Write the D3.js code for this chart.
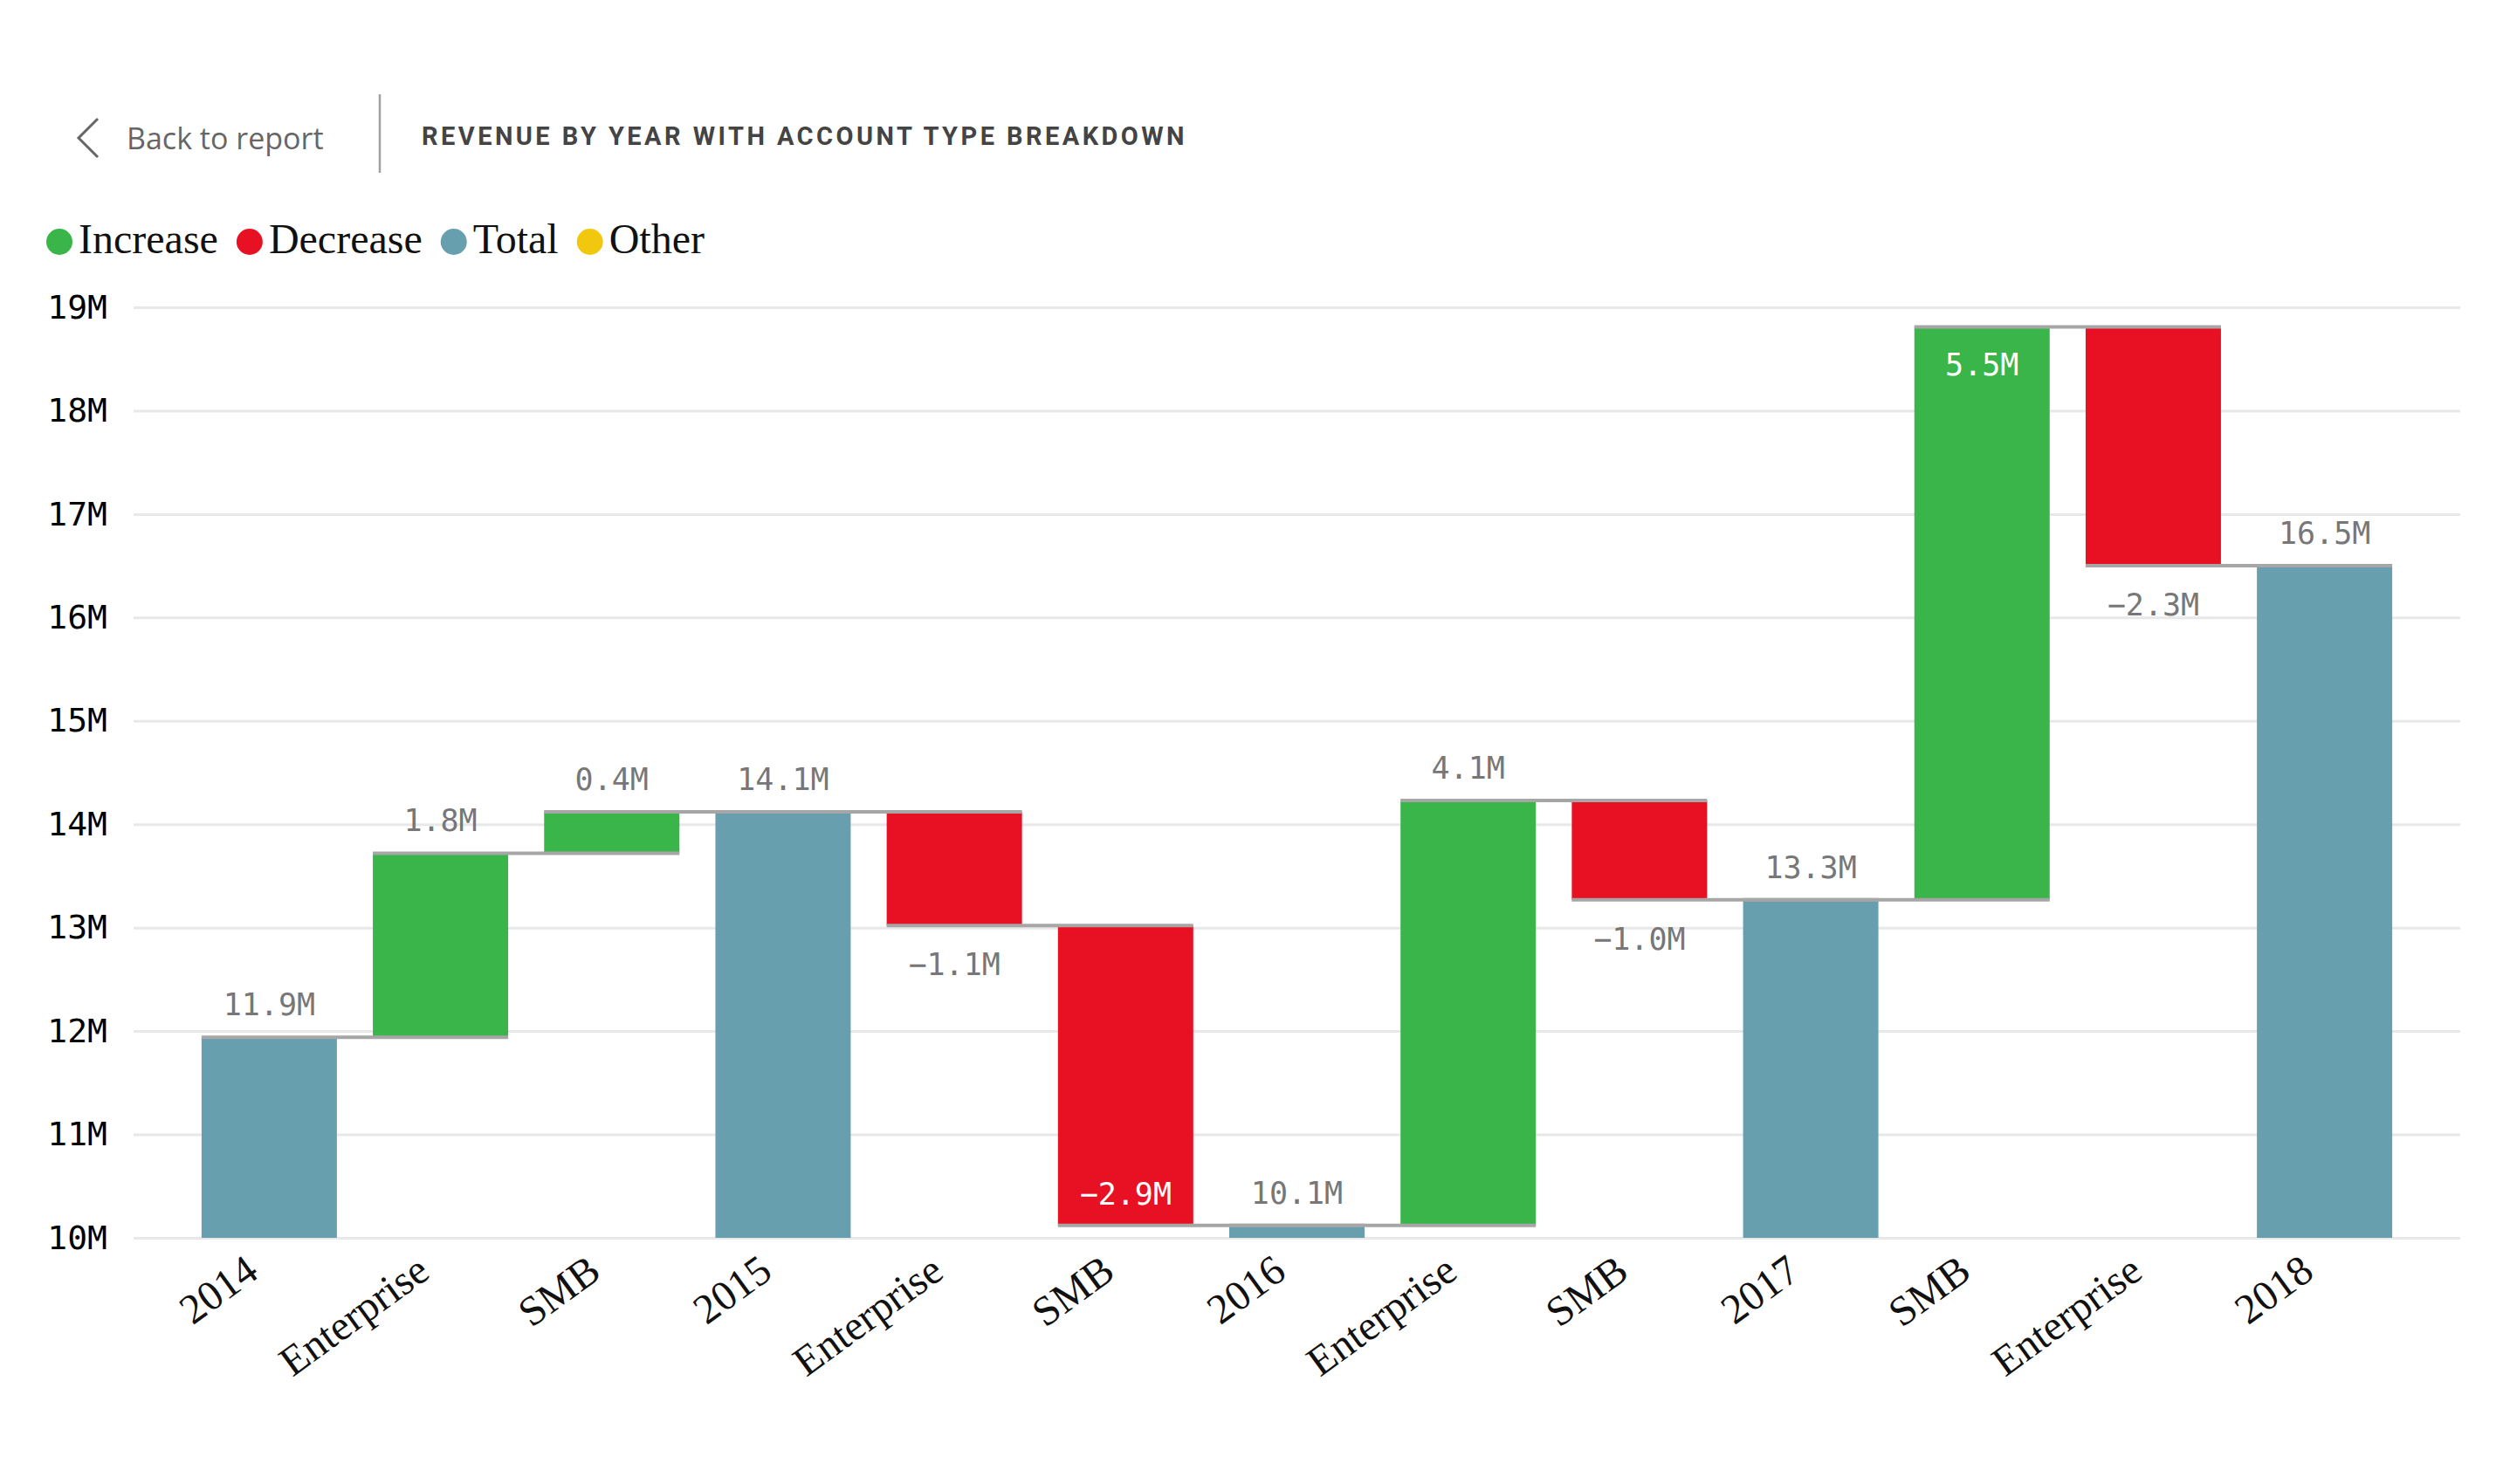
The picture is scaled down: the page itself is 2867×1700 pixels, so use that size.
<!DOCTYPE html>
<html>
<head>
<meta charset="utf-8">
<script src="https://cdn.jsdelivr.net/npm/d3@7"></script>
<style>
  body { margin: 0; background: #fff; }
  #chart { width: 2867px; height: 1700px; }
</style>
</head>
<body>
<div id="chart"></div>
<script>
////////////////////////////////////////////////////////////////////
////////////////////////////  Data  ////////////////////////////////
const categories = ["2014", "Enterprise", "SMB", "2015", "Enterprise", "SMB", "2016",
  "Enterprise", "SMB", "2017", "SMB", "Enterprise", "2018"];
// first value is the opening total, null marks a running total bar
const deltas = [11.94, 1.78, 0.40, null, -1.10, -2.90, null, 4.11, -0.96, null, 5.54, -2.31, null];
const yTicks = [10, 11, 12, 13, 14, 15, 16, 17, 18, 19];
const legendItems = ["Increase", "Decrease", "Total", "Other"];
const legendColors = ["#3AB54A", "#E81123", "#679FAE", "#F2C80F"];

////////////////////////////////////////////////////////////////////
////////////////////////////  Init  ////////////////////////////////
const width = 2867, height = 1700;
const margin = { top: 352, right: 49, bottom: 282, left: 153 };

const svg = d3.select("#chart").append("svg")
  .attr("width", width).attr("height", height);

// build waterfall steps
let running = 0;
const steps = deltas.map((d, i) => {
  let type, start, end, value;
  if (i === 0) { type = "total"; start = 10; end = d; running = d; value = d; }
  else if (d === null) { type = "total"; start = 10; end = running; value = running; }
  else { type = d >= 0 ? "increase" : "decrease"; start = running; running += d; end = running; value = d; }
  return { i, name: categories[i], type, start, end, value, level: running };
});

const color = { increase: legendColors[0], decrease: legendColors[1], total: legendColors[2] };

const xScale = d3.scaleBand()
  .domain(d3.range(categories.length))
  .range([margin.left, width - margin.right])
  .paddingInner(0.21)
  .paddingOuter(0.397);

const yScale = d3.scaleLinear()
  .domain([10, 19])
  .range([height - margin.bottom, margin.top]);

////////////////////////////////////////////////////////////////////
////////////////////////////  Header  //////////////////////////////
svg.append("path")
  .attr("d", "M112,136 L90,158 L112,180")
  .attr("fill", "none").attr("stroke", "#666").attr("stroke-width", 3);

svg.append("text")
  .attr("x", 145).attr("y", 171)
  .attr("font-family", "'Open Sans', sans-serif")
  .attr("font-size", 34).attr("fill", "#666")
  .text("Back to report");

svg.append("line")
  .attr("x1", 435).attr("x2", 435).attr("y1", 108).attr("y2", 198)
  .attr("stroke", "#a0a0a0").attr("stroke-width", 2.5);

svg.append("text")
  .attr("x", 483).attr("y", 166)
  .attr("font-family", "Roboto, sans-serif")
  .attr("font-weight", "bold")
  .attr("font-size", 29).attr("fill", "#444")
  .attr("letter-spacing", 1.5)
  .attr("textLength", 875).attr("lengthAdjust", "spacing")
  .text("REVENUE BY YEAR WITH ACCOUNT TYPE BREAKDOWN");

////////////////////////////////////////////////////////////////////
////////////////////////////  Legend  //////////////////////////////
const legend = svg.append("g").attr("transform", "translate(68,277)");
let lx = 0;
legendItems.forEach((name, k) => {
  legend.append("circle").attr("cx", lx).attr("cy", 0).attr("r", 15)
    .attr("fill", legendColors[k]);
  const t = legend.append("text")
    .attr("x", lx + 22).attr("y", 13)
    .attr("font-family", "'Liberation Serif', serif")
    .attr("font-size", 48).attr("fill", "#111")
    .text(name);
  lx += 22 + t.node().getComputedTextLength() + 36;
});

////////////////////////////////////////////////////////////////////
////////////////////////////  Axes  ////////////////////////////////
const yAxis = d3.axisLeft(yScale)
  .tickValues(yTicks)
  .tickFormat((d) => d + "M")
  .tickSize(-(width - margin.left - margin.right))
  .tickPadding(30);

svg.append("g")
  .attr("class", "y-axis")
  .attr("transform", `translate(${margin.left},0)`)
  .call(yAxis)
  .call((g) => g.select(".domain").remove())
  .call((g) => g.selectAll("line").attr("stroke", "#e8e8e8").attr("stroke-width", 3))
  .call((g) => g.selectAll("text")
    .attr("font-family", "'DejaVu Sans Mono', monospace")
    .attr("font-size", 38).attr("fill", "#000"));

const xAxis = d3.axisBottom(xScale)
  .tickFormat((i) => categories[i])
  .tickSize(0);

svg.append("g")
  .attr("class", "x-axis")
  .attr("transform", `translate(0,${yScale(10)})`)
  .call(xAxis)
  .call((g) => g.select(".domain").remove())
  .call((g) => g.selectAll("text")
    .attr("font-family", "'Liberation Serif', serif")
    .attr("font-size", 48).attr("fill", "#111")
    .attr("text-anchor", "end")
    .attr("dy", 0)
    .attr("y", 0)
    .attr("transform", "translate(-10,44) rotate(-36)"));

////////////////////////////////////////////////////////////////////
////////////////////////////  Bars  ////////////////////////////////
svg.selectAll(".bar")
  .data(steps)
  .enter()
  .append("rect")
  .attr("class", "bar")
  .attr("x", (d) => xScale(d.i))
  .attr("width", xScale.bandwidth())
  .attr("y", (d) => yScale(Math.max(d.start, d.end)))
  .attr("height", (d) => Math.abs(yScale(d.start) - yScale(d.end)))
  .attr("fill", (d) => color[d.type]);

// connectors between consecutive bars
svg.selectAll(".connector")
  .data(steps.slice(0, -1))
  .enter()
  .append("line")
  .attr("class", "connector")
  .attr("x1", (d) => xScale(d.i))
  .attr("x2", (d) => xScale(d.i + 1) + xScale.bandwidth())
  .attr("y1", (d) => yScale(d.level))
  .attr("y2", (d) => yScale(d.level))
  .attr("stroke", "#a6a6a6")
  .attr("stroke-width", 4);

////////////////////////////////////////////////////////////////////
////////////////////////////  Labels  //////////////////////////////
const fmt = d3.format(".1f");
const capH = 26;

svg.selectAll(".label")
  .data(steps)
  .enter()
  .append("text")
  .attr("class", "label")
  .attr("x", (d) => xScale(d.i) + xScale.bandwidth() / 2)
  .attr("text-anchor", "middle")
  .attr("font-family", "'DejaVu Sans Mono', monospace")
  .attr("font-size", 35)
  .each(function (d) {
    const t = d3.select(this);
    let y, inside = false;
    if (d.type === "decrease") {
      y = yScale(d.end) + 57;
      if (y > yScale(10)) { y = yScale(d.end) - 24; inside = true; }
    } else {
      y = yScale(d.end) - 25;
      if (y - capH < yScale(19)) { y = yScale(d.end) + 55; inside = true; }
    }
    t.attr("y", y).attr("fill", inside ? "#fff" : "#777");
  })
  .text((d) => fmt(d.value) + "M");
</script>
</body>
</html>
